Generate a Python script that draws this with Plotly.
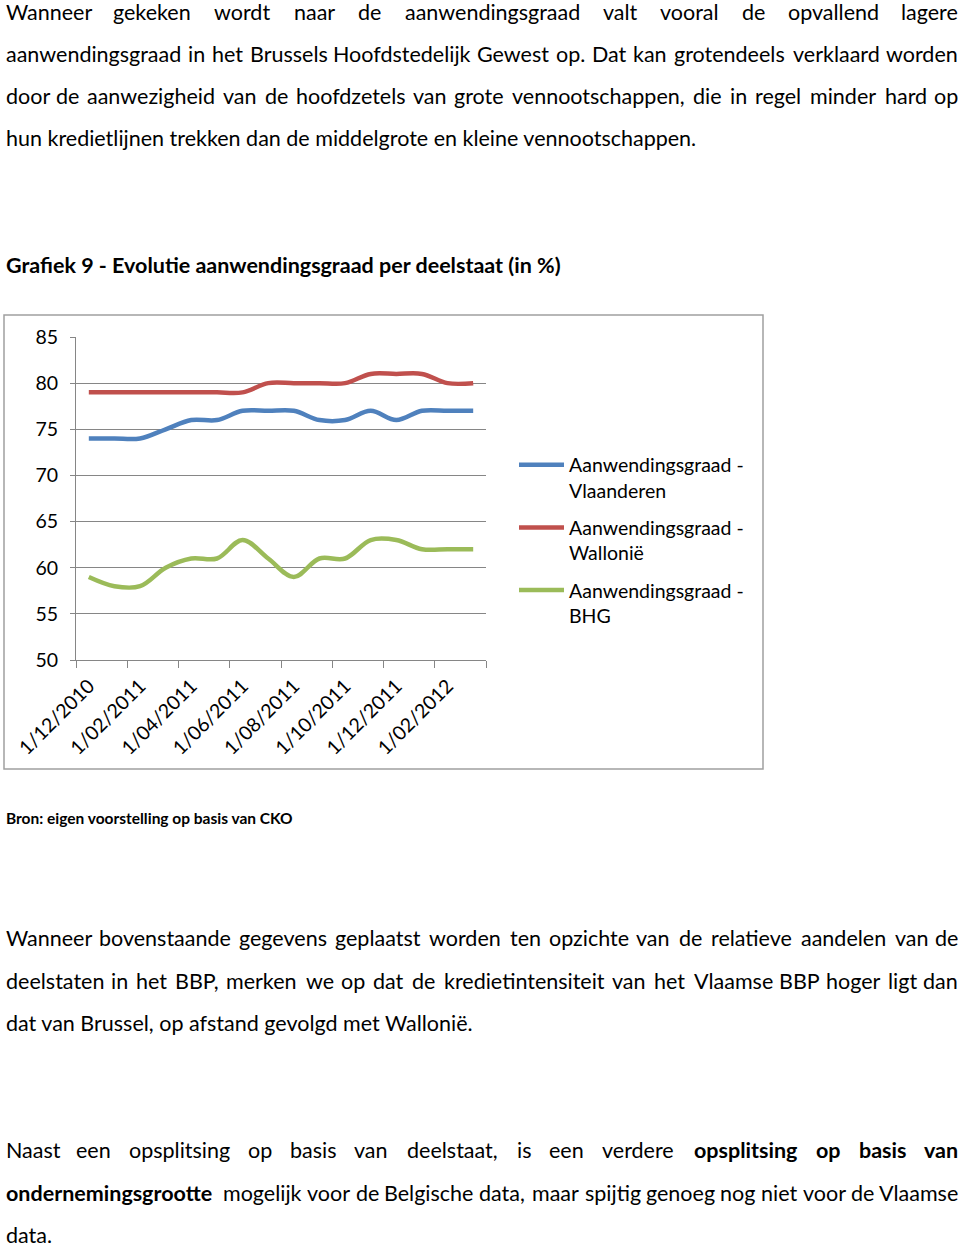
import plotly.graph_objects as go

# ---------------- data ----------------
dates = ["1/12/2010", "1/01/2011", "1/02/2011", "1/03/2011", "1/04/2011", "1/05/2011",
         "1/06/2011", "1/07/2011", "1/08/2011", "1/09/2011", "1/10/2011", "1/11/2011",
         "1/12/2011", "1/01/2012", "1/02/2012", "1/03/2012"]
vlaanderen = [74, 74, 74, 75, 76, 76, 77, 77, 77, 76, 76, 77, 76, 77, 77, 77]
wallonie = [79, 79, 79, 79, 79, 79, 79, 80, 80, 80, 80, 81, 81, 81, 80, 80]
bhg = [59, 58, 58, 60, 61, 61, 63, 61, 59, 61, 61, 63, 63, 62, 62, 62]
series_names = ["Aanwendingsgraad -<br>Vlaanderen", "Aanwendingsgraad -<br>Wallonië",
                "Aanwendingsgraad -<br>BHG"]
y_ticks = [50, 55, 60, 65, 70, 75, 80, 85]

title_text = "Grafiek 9 - Evolutie aanwendingsgraad per deelstaat (in %)"
source_text = "Bron: eigen voorstelling op basis van CKO"

# paragraph lines: (text, justified, y-center px); **word = bold word
lines = [
    ("Wanneer gekeken wordt naar de aanwendingsgraad valt vooral de opvallend lagere", True, 11.5),
    ("aanwendingsgraad in het Brussels Hoofdstedelijk Gewest op. Dat kan grotendeels verklaard worden", True, 53.5),
    ("door de aanwezigheid van de hoofdzetels van grote vennootschappen, die in regel minder hard op", True, 95.5),
    ("hun kredietlijnen trekken dan de middelgrote en kleine vennootschappen.", False, 137.5),
    ("Wanneer bovenstaande gegevens geplaatst worden ten opzichte van de relatieve aandelen van de", True, 938),
    ("deelstaten in het BBP, merken we op dat de kredietintensiteit van het Vlaamse BBP hoger ligt dan", True, 981),
    ("dat van Brussel, op afstand gevolgd met Wallonië.", False, 1023),
    ("Naast een opsplitsing op basis van deelstaat, is een verdere **opsplitsing **op **basis **van", True, 1150),
    ("**ondernemingsgrootte mogelijk voor de Belgische data, maar spijtig genoeg nog niet voor de Vlaamse", True, 1193),
    ("data.", False, 1235),
]

# ---------------- layout helpers ----------------
W, H = 960, 1244
FONT = "Lato"
TXT = 21.5
CHART_TXT = 19.5
GRAY = "#868686"


def px(x):
    return x / W


def py(y):
    return 1 - y / H


# approximate Calibri advance widths (em) used to justify the text lines
CAL = {'a': .479, 'b': .525, 'c': .423, 'd': .525, 'e': .498, 'f': .305, 'g': .471, 'h': .525,
       'i': .229, 'j': .239, 'k': .455, 'l': .229, 'm': .799, 'n': .525, 'o': .527, 'p': .525,
       'q': .525, 'r': .349, 's': .391, 't': .335, 'u': .525, 'v': .452, 'w': .715, 'x': .433,
       'y': .453, 'z': .395, '.': .252, ',': .250, 'A': .579, 'B': .544, 'C': .533, 'D': .615,
       'E': .488, 'G': .631, 'H': .623, 'K': .520, 'N': .646, 'O': .662, 'P': .517, 'V': .593,
       'W': .890, 'ë': .498}


def wem(word, bold):
    return sum(CAL.get(c, .5) for c in word) * (1.04 if bold else 1.0)


annotations = []
LEFT_X = 4


def add_text(text, x, y, anchor="left", bold=False, size=TXT):
    annotations.append(dict(
        text=("<b>%s</b>" % text) if bold else text, x=px(x), y=py(y),
        xref="paper", yref="paper", xanchor=anchor, yanchor="middle",
        showarrow=False, font=dict(family=FONT, size=size, color="black")))


for text, just, yc in lines:
    raw = text.split(" ")
    words = [(w.replace("**", ""), w.startswith("**")) for w in raw]
    if not just:
        add_text(" ".join(("<b>%s</b>" % w) if b else w for w, b in words), LEFT_X, yc)
        continue
    em = 23
    widths = [wem(w, b) * em for w, b in words]
    gap = (956 - sum(widths)) / (len(words) - 1)
    xc = 4
    for i, ((w, b), ww) in enumerate(zip(words, widths)):
        if i == 0:
            add_text(w, LEFT_X, yc, "left", b)
        elif i == len(words) - 1:
            add_text(w, 960, yc, "right", b)
        else:
            add_text(w, xc + ww / 2, yc, "center", b)
        xc += ww + gap

add_text(title_text, LEFT_X, 265, bold=True)
add_text(source_text, LEFT_X, 818, bold=True, size=15.5)

# ---------------- figure ----------------
idx = list(range(len(dates)))
colors = ["#4F81BD", "#C0504D", "#9BBB59"]
fig = go.Figure()
for name, vals, col in zip(series_names, [vlaanderen, wallonie, bhg], colors):
    fig.add_trace(go.Scatter(
        x=idx, y=vals, name=name, mode="lines", legendgroup=name,
        line=dict(color=col, width=4.5, shape="spline", smoothing=1.0),
        hoverinfo="x+y"))

fig.update_layout(
    width=W, height=H, margin=dict(l=0, r=0, t=0, b=0, autoexpand=False),
    paper_bgcolor="white", plot_bgcolor="white",
    font=dict(family=FONT, size=CHART_TXT, color="black"),
    showlegend=True,
    legend=dict(x=px(514), y=py(445.5), xanchor="left", yanchor="top",
                font=dict(family=FONT, size=CHART_TXT, color="black"),
                bgcolor="rgba(0,0,0,0)", valign="top", tracegroupgap=9,
                itemwidth=45),
    xaxis=dict(domain=[px(76), px(486)], range=[-0.5, len(dates) - 0.5],
               automargin=False,
               tickmode="array", tickvals=idx[::2], ticktext=dates[::2],
               tickangle=-45, ticks="", showgrid=False, zeroline=False,
               showline=True, linecolor=GRAY, linewidth=1,
               ticklabelstandoff=6,
               tickfont=dict(family=FONT, size=CHART_TXT, color="black"),
               minor=dict(tickmode="array",
                          tickvals=[i - 0.5 for i in idx[::2]] + [len(dates) - 0.5],
                          ticks="outside", ticklen=7, tickcolor=GRAY, tickwidth=1,
                          showgrid=False)),
    yaxis=dict(domain=[py(660), py(337)], range=[50, 85], tickmode="array",
               automargin=False,
               tickvals=y_ticks, ticks="outside", ticklen=5, tickcolor=GRAY,
               showgrid=True, gridcolor=GRAY, gridwidth=1, zeroline=False,
               showline=True, linecolor=GRAY, linewidth=1, ticklabelstandoff=8,
               tickfont=dict(family=FONT, size=CHART_TXT, color="black")),
    shapes=[dict(type="rect", xref="paper", yref="paper", x0=px(4), x1=px(763),
                 y0=py(769), y1=py(315), line=dict(color="#A0A0A0", width=1.5),
                 fillcolor="rgba(0,0,0,0)", layer="below")],
    annotations=annotations,
)

fig.write_html("out.html",
               config={"displayModeBar": False},
               post_script="document.body.style.margin='0px';"
                           "document.body.style.overflow='hidden';")
